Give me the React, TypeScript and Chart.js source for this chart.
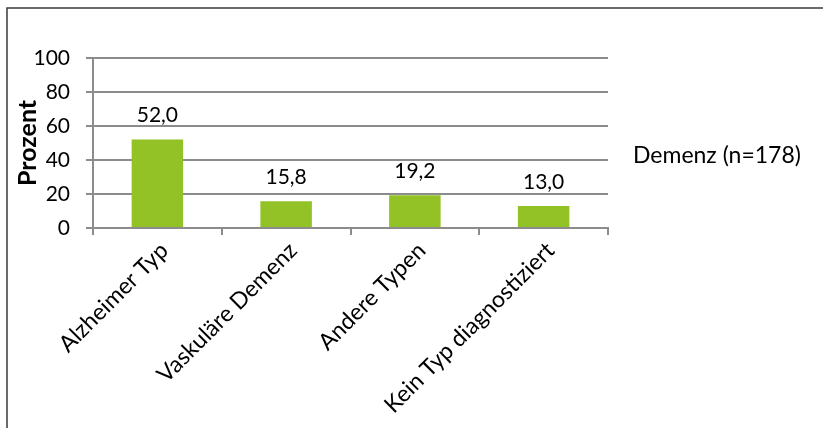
import React, { useEffect, useRef } from "react";
import { Chart, registerables } from "chart.js";

Chart.register(...registerables);

const categories = ["Alzheimer Typ", "Vaskuläre Demenz", "Andere Typen", "Kein Typ diagnostiziert"];
const values = [52.0, 15.8, 19.2, 13.0];
const seriesName = "Demenz (n=178)";
const yAxisTitle = "Prozent";
const yMin = 0;
const yMax = 100;
const yStep = 20;

const FONT = "Lato, 'Open Sans', sans-serif";
const GRAY = "#8c8c8c";
const GREEN = "#92c226";

const fmt = (v: number) => v.toFixed(1).replace(".", ",");

export default function App() {
  const ref = useRef<HTMLCanvasElement | null>(null);

  useEffect(() => {
    document.body.style.margin = "0";
    const canvas = ref.current;
    if (!canvas) return;

    const framePlugin = {
      id: "frame",
      beforeDraw(chart: any) {
        const ctx = chart.ctx;
        ctx.save();
        ctx.fillStyle = "#ffffff";
        ctx.fillRect(0, 0, chart.width, chart.height);
        ctx.strokeStyle = "#3a3a3a";
        ctx.lineWidth = 1.5;
        ctx.beginPath();
        ctx.moveTo(7, chart.height);
        ctx.lineTo(7, 8);
        ctx.lineTo(chart.width, 8);
        ctx.stroke();
        ctx.restore();
      },
    };

    const labelPlugin = {
      id: "barLabels",
      afterDatasetsDraw(chart: any) {
        const ctx = chart.ctx;
        const meta = chart.getDatasetMeta(0);
        ctx.save();
        ctx.font = `21px ${FONT}`;
        ctx.fillStyle = "#000000";
        ctx.textAlign = "center";
        ctx.textBaseline = "middle";
        meta.data.forEach((bar: any, i: number) => {
          ctx.fillText(fmt(values[i]), bar.x, bar.y - 24);
        });
        // legend text (series name, no swatch)
        const ca = chart.chartArea;
        ctx.font = `23px ${FONT}`;
        ctx.textAlign = "left";
        ctx.fillText(seriesName, ca.right + 25, (ca.top + ca.bottom) / 2 + 13);
        ctx.restore();
      },
    };

    const chart = new Chart(canvas, {
      type: "bar",
      data: {
        labels: categories,
        datasets: [
          {
            label: seriesName,
            data: values,
            backgroundColor: GREEN,
            borderWidth: 0,
            categoryPercentage: 1,
            barPercentage: 0.4,
          },
        ],
      },
      options: {
        responsive: false,
        animation: false,
        devicePixelRatio: 1,
        layout: { padding: { left: 0, top: 58, right: 215, bottom: 0 } },
        plugins: {
          legend: { display: false },
          tooltip: { enabled: false },
        },
        scales: {
          x: {
            offset: true,
            grid: {
              display: true,
              offset: true,
              drawOnChartArea: false,
              drawTicks: true,
              tickLength: 7,
              color: GRAY,
              lineWidth: 2,
            },
            border: { display: true, color: GRAY, width: 2 },
            ticks: {
              autoSkip: false,
              minRotation: 45,
              maxRotation: 45,
              padding: 2,
              labelOffset: 7,
              color: "#000000",
              font: { family: FONT, size: 23 },
            },
            afterFit(scale: any) {
              scale.height = 200;
            },
          },
          y: {
            min: yMin,
            max: yMax,
            ticks: {
              stepSize: yStep,
              padding: 16,
              color: "#000000",
              font: { family: FONT, size: 21 },
            },
            grid: {
              color: GRAY,
              lineWidth: 2,
              drawTicks: true,
              tickLength: 7,
            },
            border: { display: true, color: GRAY, width: 2 },
            title: {
              display: true,
              text: yAxisTitle,
              color: "#000000",
              font: { family: FONT, size: 25, weight: "bold" },
              padding: { top: 13, bottom: 0 },
            },
            afterFit(scale: any) {
              scale.width = 93;
            },
          },
        },
      },
      plugins: [framePlugin, labelPlugin],
    });

    return () => chart.destroy();
  }, []);

  return (
    <div style={{ position: "fixed", left: 0, top: 0, width: 823, height: 428, background: "#fff" }}>
      <canvas ref={ref} width={823} height={428} style={{ display: "block", width: 823, height: 428 }} />
    </div>
  );
}
